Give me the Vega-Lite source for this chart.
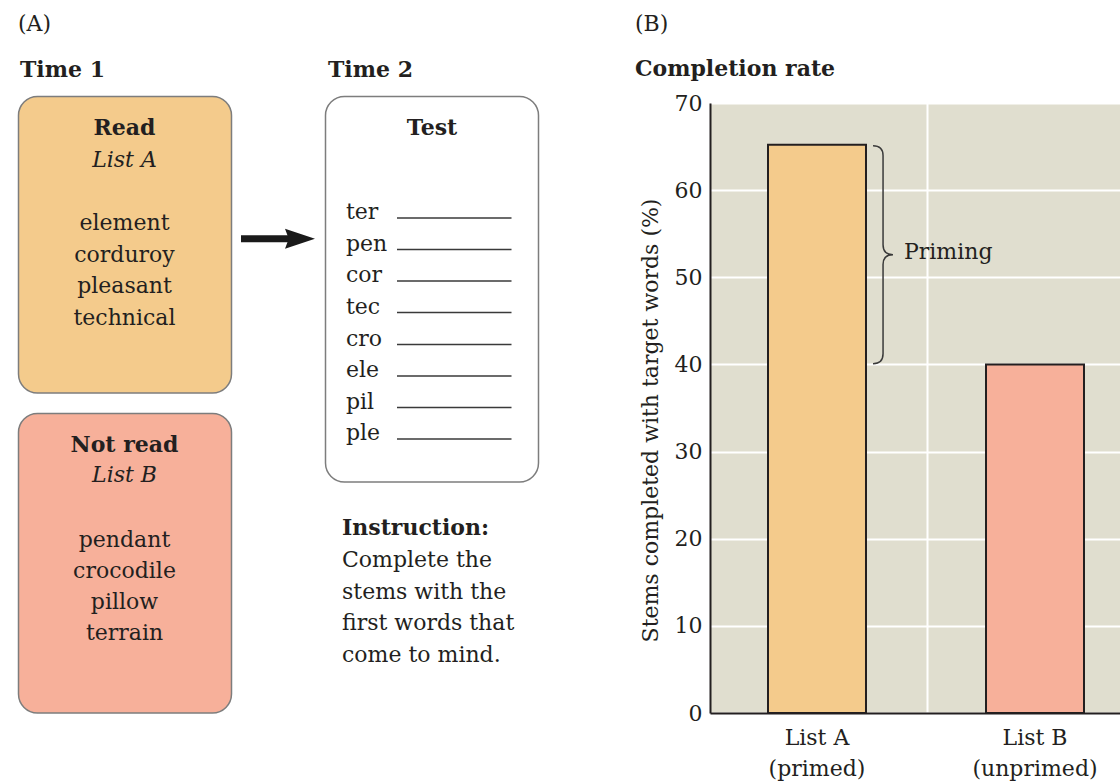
{
  "$schema": "https://vega.github.io/schema/vega-lite/v6.json",
  "padding": 0,
  "background": "white",
  "bounds": "flush",
  "spacing": 0,
  "config": {
    "view": {"stroke": null},
    "font": "DejaVu Serif",
    "concat": {"spacing": 0}
  },
  "datasets": {
    "boxes": [
      {"box": "Read", "left": 18.5, "right": 231.5, "top": 96.5, "bottom": 393},
      {"box": "Not read", "left": 18.5, "right": 231.5, "top": 413.5, "bottom": 713},
      {"box": "Test", "left": 325.5, "right": 538.5, "top": 96.5, "bottom": 482}
    ],
    "stems": [
      {"stem": "ter", "x": 346, "lineStart": 397, "lineEnd": 511.5, "y": 218},
      {"stem": "pen", "x": 346, "lineStart": 397, "lineEnd": 511.5, "y": 249.5},
      {"stem": "cor", "x": 346, "lineStart": 397, "lineEnd": 511.5, "y": 281},
      {"stem": "tec", "x": 346, "lineStart": 397, "lineEnd": 511.5, "y": 312.5},
      {"stem": "cro", "x": 346, "lineStart": 397, "lineEnd": 511.5, "y": 344.5},
      {"stem": "ele", "x": 346, "lineStart": 397, "lineEnd": 511.5, "y": 376},
      {"stem": "pil", "x": 346, "lineStart": 397, "lineEnd": 511.5, "y": 407.5},
      {"stem": "ple", "x": 346, "lineStart": 397, "lineEnd": 511.5, "y": 439}
    ],
    "arrow": [
      {"from": 241, "to": 290, "head": 300, "y": 238.7}
    ],
    "texts": [
      {"text": "(A)", "x": 18, "y": 31, "kind": "left"},
      {"text": "(B)", "x": 635, "y": 31, "kind": "left"},
      {"text": "Time 1", "x": 20, "y": 77, "kind": "leftBold"},
      {"text": "Time 2", "x": 328, "y": 77, "kind": "leftBold"},
      {"text": "Completion rate", "x": 635, "y": 76, "kind": "leftBold"},
      {"text": "Instruction:", "x": 342, "y": 535, "kind": "leftBold"},
      {"text": "Complete the", "x": 342, "y": 567, "kind": "left"},
      {"text": "stems with the", "x": 342, "y": 599, "kind": "left"},
      {"text": "first words that", "x": 342, "y": 630, "kind": "left"},
      {"text": "come to mind.", "x": 342, "y": 662, "kind": "left"},
      {"text": "Read", "x": 124.5, "y": 135, "kind": "centerBold"},
      {"text": "Not read", "x": 124.5, "y": 452, "kind": "centerBold"},
      {"text": "Test", "x": 432, "y": 135, "kind": "centerBold"},
      {"text": "List A", "x": 124.5, "y": 167, "kind": "centerItalic"},
      {"text": "List B", "x": 124.5, "y": 482, "kind": "centerItalic"},
      {"text": "element", "x": 124.5, "y": 230, "kind": "center"},
      {"text": "corduroy", "x": 124.5, "y": 261.5, "kind": "center"},
      {"text": "pleasant", "x": 124.5, "y": 293, "kind": "center"},
      {"text": "technical", "x": 124.5, "y": 324.5, "kind": "center"},
      {"text": "pendant", "x": 124.5, "y": 547, "kind": "center"},
      {"text": "crocodile", "x": 124.5, "y": 578, "kind": "center"},
      {"text": "pillow", "x": 124.5, "y": 609, "kind": "center"},
      {"text": "terrain", "x": 124.5, "y": 640, "kind": "center"}
    ],
    "completion": [
      {"list": "List A", "rate": 65.2},
      {"list": "List B", "rate": 40}
    ],
    "priming": [
      {"list": "List A", "mid": 52.6, "label": "Priming"}
    ]
  },
  "hconcat": [
    {
      "width": 710,
      "height": 782,
      "layer": [
        {
          "data": {"name": "boxes"},
          "mark": {"type": "rect", "cornerRadius": 19, "stroke": "#7d7d7d", "strokeWidth": 1.5},
          "encoding": {
            "x": {"field": "left", "type": "quantitative", "scale": {"domain": [0, 710], "nice": false, "zero": false}, "axis": null},
            "x2": {"field": "right"},
            "y": {"field": "top", "type": "quantitative", "scale": {"domain": [0, 782], "nice": false, "zero": false, "reverse": true}, "axis": null},
            "y2": {"field": "bottom"},
            "color": {"field": "box", "type": "nominal", "scale": {"domain": ["Read", "Not read", "Test"], "range": ["#f4cb8c", "#f7b09a", "#ffffff"]}, "legend": null}
          }
        },
        {
          "data": {"name": "stems"},
          "mark": {"type": "rule", "color": "#3a3a3a", "strokeWidth": 1.5},
          "encoding": {
            "x": {"field": "lineStart", "type": "quantitative", "scale": {"domain": [0, 710], "nice": false, "zero": false}, "axis": null},
            "x2": {"field": "lineEnd"},
            "y": {"field": "y", "type": "quantitative", "scale": {"domain": [0, 782], "nice": false, "zero": false, "reverse": true}, "axis": null}
          }
        },
        {
          "data": {"name": "stems"},
          "mark": {"type": "text", "align": "left", "baseline": "alphabetic", "fontSize": 22, "color": "#231f20", "dy": 1},
          "encoding": {
            "x": {"field": "x", "type": "quantitative", "scale": {"domain": [0, 710], "nice": false, "zero": false}, "axis": null},
            "y": {"field": "y", "type": "quantitative", "scale": {"domain": [0, 782], "nice": false, "zero": false, "reverse": true}, "axis": null},
            "text": {"field": "stem"}
          }
        },
        {
          "data": {"name": "arrow"},
          "mark": {"type": "rule", "color": "#1a1a1a", "strokeWidth": 7, "strokeCap": "butt"},
          "encoding": {
            "x": {"field": "from", "type": "quantitative", "scale": {"domain": [0, 710], "nice": false, "zero": false}, "axis": null},
            "x2": {"field": "to"},
            "y": {"field": "y", "type": "quantitative", "scale": {"domain": [0, 782], "nice": false, "zero": false, "reverse": true}, "axis": null}
          }
        },
        {
          "data": {"name": "arrow"},
          "mark": {"type": "point", "shape": "M1,0L-1,-0.667L-0.75,0L-1,0.667Z", "size": 900, "filled": true, "color": "#1a1a1a", "opacity": 1, "strokeWidth": 0},
          "encoding": {
            "x": {"field": "head", "type": "quantitative", "scale": {"domain": [0, 710], "nice": false, "zero": false}, "axis": null},
            "y": {"field": "y", "type": "quantitative", "scale": {"domain": [0, 782], "nice": false, "zero": false, "reverse": true}, "axis": null}
          }
        },
        {
          "data": {"name": "texts"},
          "transform": [{"filter": "datum.kind == 'left'"}],
          "mark": {"type": "text", "align": "left", "baseline": "alphabetic", "fontSize": 22, "color": "#231f20"},
          "encoding": {
            "x": {"field": "x", "type": "quantitative", "scale": {"domain": [0, 710], "nice": false, "zero": false}, "axis": null},
            "y": {"field": "y", "type": "quantitative", "scale": {"domain": [0, 782], "nice": false, "zero": false, "reverse": true}, "axis": null},
            "text": {"field": "text"}
          }
        },
        {
          "data": {"name": "texts"},
          "transform": [{"filter": "datum.kind == 'leftBold'"}],
          "mark": {"type": "text", "align": "left", "baseline": "alphabetic", "fontSize": 22, "fontWeight": "bold", "color": "#231f20"},
          "encoding": {
            "x": {"field": "x", "type": "quantitative", "scale": {"domain": [0, 710], "nice": false, "zero": false}, "axis": null},
            "y": {"field": "y", "type": "quantitative", "scale": {"domain": [0, 782], "nice": false, "zero": false, "reverse": true}, "axis": null},
            "text": {"field": "text"}
          }
        },
        {
          "data": {"name": "texts"},
          "transform": [{"filter": "datum.kind == 'center'"}],
          "mark": {"type": "text", "align": "center", "baseline": "alphabetic", "fontSize": 22, "color": "#231f20"},
          "encoding": {
            "x": {"field": "x", "type": "quantitative", "scale": {"domain": [0, 710], "nice": false, "zero": false}, "axis": null},
            "y": {"field": "y", "type": "quantitative", "scale": {"domain": [0, 782], "nice": false, "zero": false, "reverse": true}, "axis": null},
            "text": {"field": "text"}
          }
        },
        {
          "data": {"name": "texts"},
          "transform": [{"filter": "datum.kind == 'centerBold'"}],
          "mark": {"type": "text", "align": "center", "baseline": "alphabetic", "fontSize": 22, "fontWeight": "bold", "color": "#231f20"},
          "encoding": {
            "x": {"field": "x", "type": "quantitative", "scale": {"domain": [0, 710], "nice": false, "zero": false}, "axis": null},
            "y": {"field": "y", "type": "quantitative", "scale": {"domain": [0, 782], "nice": false, "zero": false, "reverse": true}, "axis": null},
            "text": {"field": "text"}
          }
        },
        {
          "data": {"name": "texts"},
          "transform": [{"filter": "datum.kind == 'centerItalic'"}],
          "mark": {"type": "text", "align": "center", "baseline": "alphabetic", "fontSize": 22, "fontStyle": "italic", "color": "#231f20"},
          "encoding": {
            "x": {"field": "x", "type": "quantitative", "scale": {"domain": [0, 710], "nice": false, "zero": false}, "axis": null},
            "y": {"field": "y", "type": "quantitative", "scale": {"domain": [0, 782], "nice": false, "zero": false, "reverse": true}, "axis": null},
            "text": {"field": "text"}
          }
        }
      ]
    },
    {
      "bounds": "flush",
      "spacing": 0,
      "vconcat": [
        {
          "width": 410,
          "height": 103,
          "data": {"values": [{"spacer": 1}]},
          "mark": {"type": "text"},
          "encoding": {"text": {"value": ""}}
        },
        {
          "width": 410,
          "height": 610,
          "view": {"fill": "#e0decf", "stroke": null},
          "data": {"name": "completion"},
          "layer": [
            {
              "mark": {"type": "bar", "stroke": "#231f20", "strokeWidth": 2},
              "encoding": {
                "x": {
                  "field": "list", "type": "nominal", "sort": null,
                  "scale": {"paddingInner": 0.5505, "paddingOuter": 0.2156, "align": 0.617},
                  "axis": {
                    "title": null, "orient": "bottom", "labelAngle": 0, "ticks": false, "grid": false,
                    "domainColor": "#231f20", "domainWidth": 2,
                    "labelExpr": "[datum.label, datum.label == 'List A' ? '(primed)' : '(unprimed)']",
                    "labelFontSize": 22, "labelColor": "#231f20", "labelPadding": 14, "labelLineHeight": 31
                  }
                },
                "y": {
                  "field": "rate", "type": "quantitative",
                  "scale": {"domain": [0, 70], "nice": false},
                  "axis": {
                    "values": [0, 10, 20, 30, 40, 50, 60, 70],
                    "title": "Stems completed with target words (%)",
                    "titleFontSize": 22, "titleFontWeight": "normal", "titleColor": "#231f20", "titlePadding": 12, "titleY": 317,
                    "labelFontSize": 22, "labelColor": "#231f20", "labelPadding": 8,
                    "ticks": false, "grid": true, "gridColor": "#ffffff", "gridWidth": 2,
                    "domainColor": "#231f20", "domainWidth": 2
                  }
                },
                "color": {"field": "list", "type": "nominal", "scale": {"domain": ["List A", "List B"], "range": ["#f4cb8b", "#f7af98"]}, "legend": null}
              }
            },
            {
              "mark": {"type": "bar", "opacity": 0},
              "encoding": {
                "x": {
                  "field": "list", "type": "nominal", "sort": null,
                  "axis": {"orient": "top", "values": ["List B"], "bandPosition": -0.592, "grid": true, "gridColor": "#ffffff", "gridWidth": 2, "labels": false, "ticks": false, "domain": false, "title": null}
                },
                "y": {"field": "rate", "type": "quantitative"}
              }
            },
            {
              "data": {"name": "priming"},
              "mark": {"type": "point", "shape": "M0.514,-1Q0.606,-1,0.606,-0.91L0.606,-0.09Q0.606,0,0.697,0Q0.606,0,0.606,0.09L0.606,0.91Q0.606,1,0.514,1", "size": 47524, "filled": false, "stroke": "#3a3a3a", "strokeWidth": 1.5, "opacity": 1},
              "encoding": {
                "x": {"field": "list", "type": "nominal", "sort": null, "axis": null},
                "y": {"field": "mid", "type": "quantitative"}
              }
            },
            {
              "data": {"name": "priming"},
              "mark": {"type": "text", "align": "left", "baseline": "middle", "dx": 87, "dy": -3, "fontSize": 22, "color": "#231f20"},
              "encoding": {
                "x": {"field": "list", "type": "nominal", "sort": null, "axis": null},
                "y": {"field": "mid", "type": "quantitative"},
                "text": {"field": "label"}
              }
            }
          ],
          "resolve": {"axis": {"x": "independent"}}
        }
      ]
    }
  ]
}
